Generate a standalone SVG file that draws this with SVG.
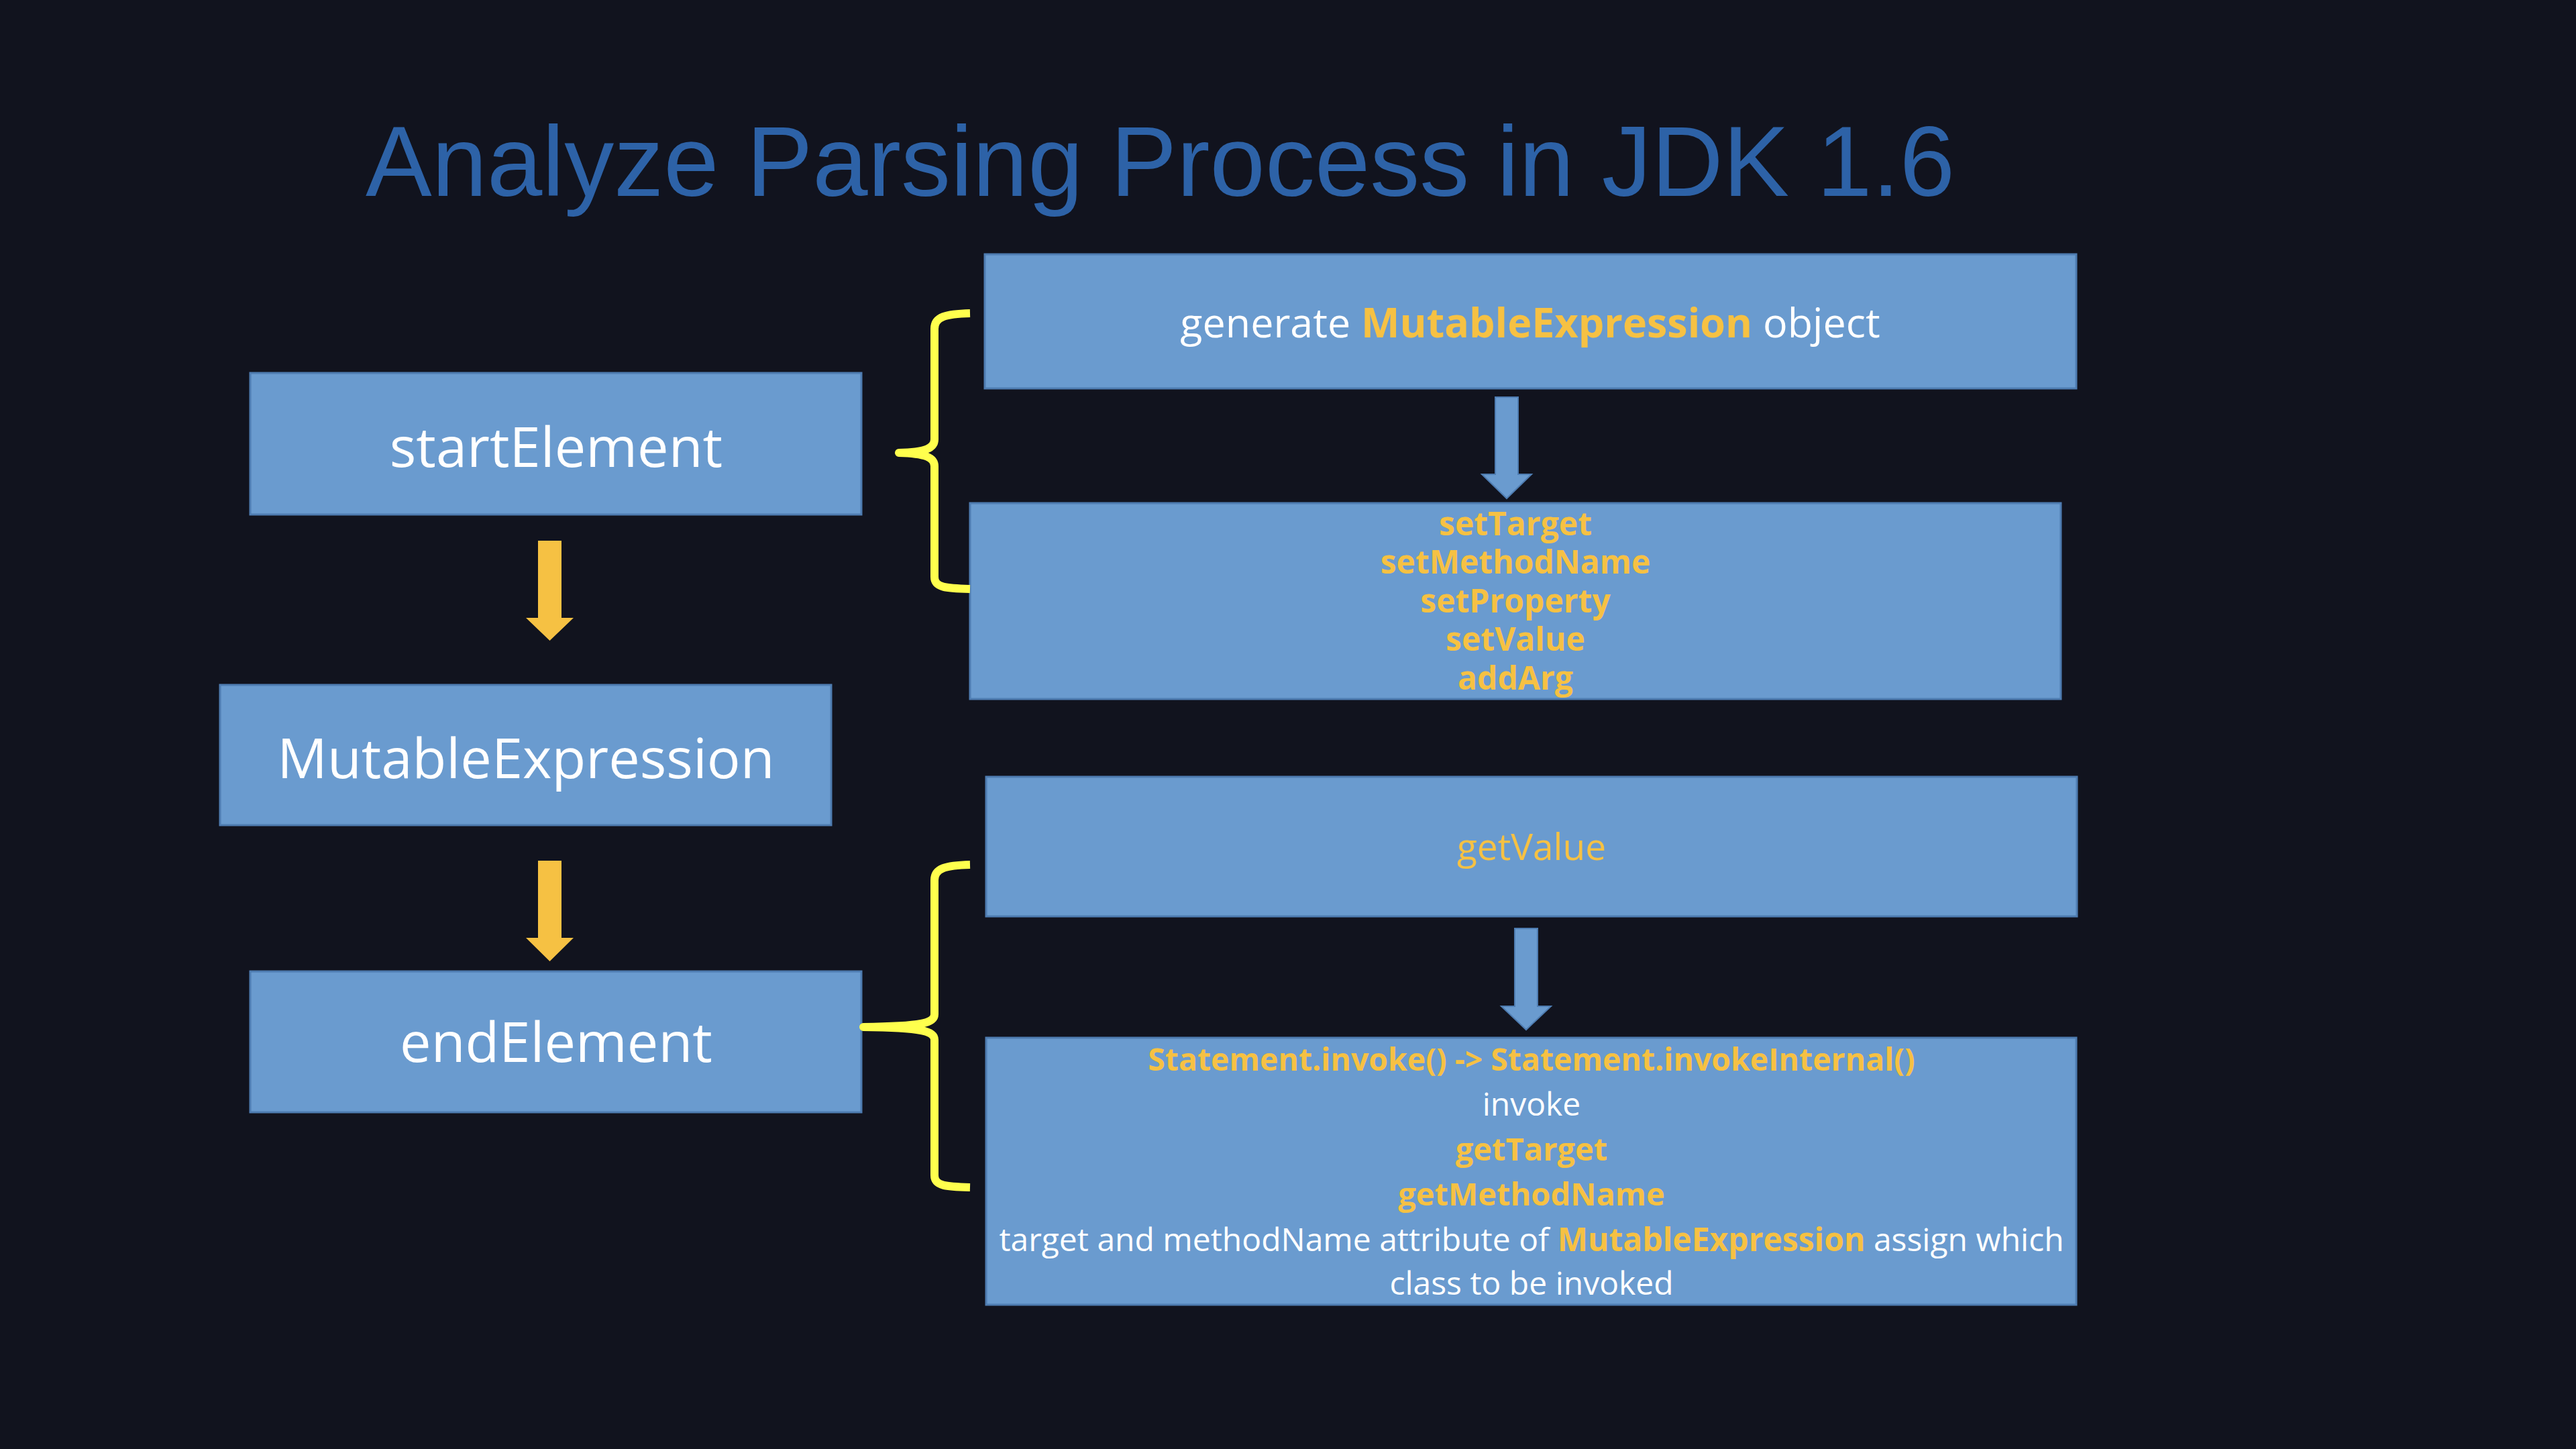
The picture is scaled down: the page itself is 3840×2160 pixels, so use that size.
<svg xmlns="http://www.w3.org/2000/svg" width="3840" height="2160" viewBox="0 0 3840 2160">
<defs>
<style>
.box{fill:#6A9BCF;stroke:#4E7CB1;stroke-width:3}
.lbl{font-family:"Open Sans","Liberation Sans",sans-serif;fill:#FFFFFF;text-anchor:middle}
.big{font-size:83px}
.o{fill:#F6C143}
.b{font-weight:bold}
.brace{fill:none;stroke:#FFFF4D;stroke-width:12;stroke-linecap:butt;stroke-linejoin:round}
.oarr{fill:#F6C143}
.barr{fill:#6A9BCF;stroke:#4E7CB1;stroke-width:2}
</style>
</defs>
<rect width="3840" height="2160" fill="#11131E"/>
<text x="545" y="292" font-family="Liberation Sans, sans-serif" font-size="148" fill="#2D62A7">Analyze Parsing Process in JDK 1.6</text>

<g id="startElement"><rect class="box" x="373" y="556" width="911" height="211"/><text class="lbl big" x="829" y="696">startElement</text></g>
<g id="MutableExpression"><rect class="box" x="328" y="1021" width="911" height="209"/><text class="lbl big" x="784" y="1160">MutableExpression</text></g>
<g id="endElement"><rect class="box" x="373" y="1448" width="911" height="210"/><text class="lbl big" x="829" y="1583">endElement</text></g>

<g id="generate"><rect class="box" x="1468" y="379" width="1627" height="200"/><text class="lbl" x="2281" y="503" font-size="61">generate <tspan class="o b">MutableExpression</tspan> object</text></g>
<g id="setters"><rect class="box" x="1446" y="750" width="1626" height="292"/>
<text class="lbl o b" x="2259" font-size="48"><tspan x="2259" y="798">setTarget</tspan><tspan x="2259" y="855">setMethodName</tspan><tspan x="2259" y="913">setProperty</tspan><tspan x="2259" y="970">setValue</tspan><tspan x="2259" y="1028">addArg</tspan></text></g>
<g id="getValue"><rect class="box" x="1470" y="1158" width="1626" height="208"/><text class="lbl o" x="2283" y="1282" font-size="55">getValue</text></g>
<g id="invoke"><rect class="box" x="1470" y="1547" width="1625" height="398"/>
<text class="lbl o b" x="2283" y="1596" font-size="46.4">Statement.invoke() -&gt; Statement.invokeInternal()</text>
<text class="lbl" x="2283" font-size="48"><tspan x="2283" y="1663">invoke</tspan><tspan class="o b" x="2283" y="1730" font-size="47">getTarget</tspan><tspan class="o b" x="2283" y="1797" font-size="47">getMethodName</tspan><tspan x="2283" y="1865">target and methodName attribute of <tspan class="o b">MutableExpression</tspan> assign which</tspan><tspan x="2283" y="1930">class to be invoked</tspan></text></g>

<g id="connectors">
<path class="oarr" d="M802,806 H837 V921 H855 L819.5,955 L784,921 H802 Z"/>
<path class="oarr" d="M802,1283 H837 V1398 H855 L819.5,1433 L784,1398 H802 Z"/>
<path class="barr" d="M2229,592 H2263 V707 H2283 L2246,743 L2209,707 H2229 Z"/>
<path class="barr" d="M2258,1384 H2292 V1500 H2312 L2275,1535 L2238,1500 H2258 Z"/>
<path class="brace" d="M1446,467 C1410,468 1393,472 1393,490 L1393,655 C1393,668 1380,674 1340,675 C1380,676 1393,682 1393,695 L1393,860 C1393,876 1410,877 1446,878"/>
<path class="brace" d="M1446,1289 C1410,1290 1393,1294 1393,1312 L1393,1512 C1393,1525 1375,1530 1287,1531 C1375,1532 1393,1537 1393,1550 L1393,1752 C1393,1768 1410,1769 1446,1770"/>
</g>
</svg>
